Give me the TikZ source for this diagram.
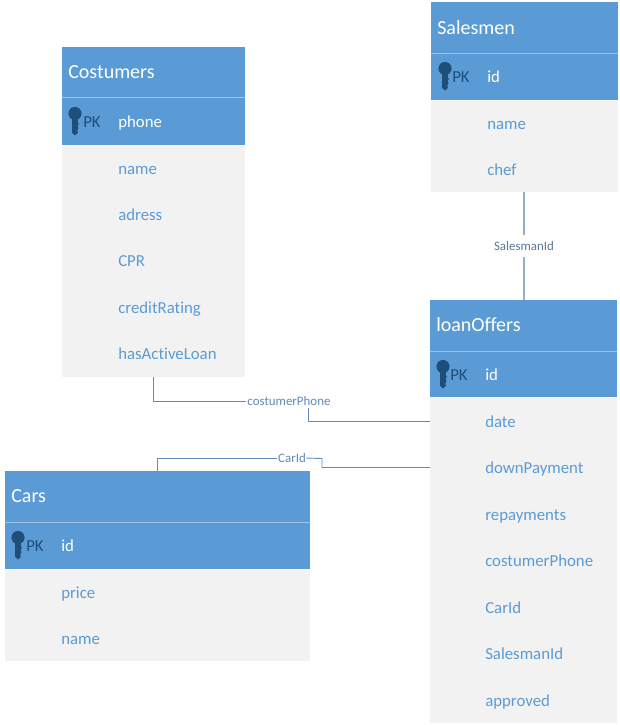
\documentclass[tikz,border=0pt]{standalone}
\usepackage{fontspec}
\setmainfont{Carlito}[Ligatures=NoCommon]
\definecolor{hdr}{HTML}{5B9BD5}
\definecolor{bodyfill}{HTML}{F2F2F2}
\definecolor{pkdark}{HTML}{1F4E79}
\definecolor{sepline}{HTML}{9DC3E6}
\definecolor{conn}{HTML}{5F8FB8}
\definecolor{connsoft}{HTML}{8FB0D0}
\definecolor{connlabel}{HTML}{5F88B8}
\definecolor{connlabeldark}{HTML}{5A7896}
\definecolor{titlewhite}{HTML}{FFFFFF}
\tikzset{
  x=0.75pt, y=-0.75pt,
  tablepart/.style={anchor=north west, inner sep=0pt, outer sep=0pt, draw=none},
  headbar/.style={tablepart, fill=hdr},
  bodypart/.style={tablepart, fill=bodyfill},
  titletext/.style={anchor=base west, inner sep=0pt, text=titlewhite, font=\fontsize{15pt}{17pt}\selectfont},
  pktext/.style={anchor=base west, inner sep=0pt, yshift=-0.4pt, text=white, font=\fontsize{12.6pt}{14pt}\selectfont},
  pkmark/.style={anchor=base west, inner sep=0pt, yshift=-0.4pt, text=pkdark, font=\fontsize{12.6pt}{14pt}\selectfont},
  fieldtext/.style={anchor=base west, inner sep=0pt, yshift=-0.4pt, text=hdr, font=\fontsize{12.6pt}{14pt}\selectfont},
  connector/.style={draw=conn, line width=0.7pt},
  softconnector/.style={draw=connsoft, line width=0.9pt},
  connlabeltext/.style={inner sep=0pt, text=connlabel, font=\fontsize{9.7pt}{11pt}\selectfont},
  seplight/.style={draw=sepline, line width=0.75pt},
  sepdot/.style={draw=white, line width=0.75pt, dash pattern=on 0.75pt off 0.75pt},
}
\newcommand{\keyicon}[2]{%
  \fill[pkdark] (#1,#2-7.5) circle[radius=6.6];
  \fill[pkdark] (#1-2.8,#2-4) -- (#1+2.8,#2-4) -- (#1+2.8,#2+1) -- (#1+3.8,#2+3) -- (#1+2.6,#2+5) -- (#1+3.6,#2+7) -- (#1+2.4,#2+9) -- (#1+2.8,#2+12) -- (#1,#2+14.5) -- (#1-2.8,#2+12) -- cycle;
}
\begin{document}
\begin{tikzpicture}
\useasboundingbox (0,0) rectangle (620,725);

% Costumers
\node[bodypart, minimum width=183*0.75pt, minimum height=330*0.75pt] (costBody) at (62,47) {};
\node[headbar, minimum width=183*0.75pt, minimum height=98*0.75pt] (costHead) at (62,47) {};
\draw[seplight] (62,97.5) -- (245,97.5);
\draw[sepdot] (62,145) -- (245,145);
\keyicon{75}{121}
\node[titletext] (costTitle) at (68,78) {Costumers};
\node[pkmark] (costPK) at (83,126.5) {PK};
\node[pktext] (costF0) at (118,126.5) {phone};
\node[fieldtext] (costF1) at (118,173.5) {name};
\node[fieldtext] (costF2) at (118,219.5) {adress};
\node[fieldtext] (costF3) at (118,265.5) {CPR};
\node[fieldtext] (costF4) at (118,312.5) {creditRating};
\node[fieldtext] (costF5) at (118,358.5) {hasActiveLoan};

% Salesmen
\node[bodypart, minimum width=187*0.75pt, minimum height=190*0.75pt] (salesBody) at (431,2) {};
\node[headbar, minimum width=187*0.75pt, minimum height=98*0.75pt] (salesHead) at (431,2) {};
\draw[seplight] (431,53.5) -- (618,53.5);
\draw[sepdot] (431,100) -- (618,100);
\keyicon{445}{76}
\node[titletext] (salesTitle) at (437,34) {Salesmen};
\node[pkmark] (salesPK) at (452,81.5) {PK};
\node[pktext] (salesF0) at (487,81.5) {id};
\node[fieldtext] (salesF1) at (487,128.5) {name};
\node[fieldtext] (salesF2) at (487,174.5) {chef};

% loanOffers
\node[bodypart, minimum width=187*0.75pt, minimum height=423*0.75pt] (loanBody) at (430,300) {};
\node[headbar, minimum width=187*0.75pt, minimum height=97*0.75pt] (loanHead) at (430,300) {};
\draw[seplight] (430,351.5) -- (617,351.5);
\draw[sepdot] (430,397) -- (617,397);
\keyicon{443}{374}
\node[titletext] (loanTitle) at (436,331) {loanOffers};
\node[pkmark] (loanPK) at (450,379.5) {PK};
\node[pktext] (loanF0) at (485,379.5) {id};
\node[fieldtext] (loanF1) at (485,426.5) {date};
\node[fieldtext] (loanF2) at (485,472.5) {downPayment};
\node[fieldtext] (loanF3) at (485,519.5) {repayments};
\node[fieldtext] (loanF4) at (485,565.5) {costumerPhone};
\node[fieldtext] (loanF5) at (485,612.5) {CarId};
\node[fieldtext] (loanF6) at (485,658.5) {SalesmanId};
\node[fieldtext] (loanF7) at (485,705.5) {approved};

% Cars
\node[bodypart, minimum width=305*0.75pt, minimum height=190*0.75pt] (carsBody) at (5,471) {};
\node[headbar, minimum width=305*0.75pt, minimum height=98*0.75pt] (carsHead) at (5,471) {};
\draw[seplight] (5,522.5) -- (310,522.5);
\draw[sepdot] (5,569) -- (310,569);
\keyicon{18}{545}
\node[titletext] (carsTitle) at (11,502) {Cars};
\node[pkmark] (carsPK) at (26,550.5) {PK};
\node[pktext] (carsF0) at (61,550.5) {id};
\node[fieldtext] (carsF1) at (61,597.5) {price};
\node[fieldtext] (carsF2) at (61,643.5) {name};

% Connector labels
\node[connlabeltext] (lblPhone) at (289,401) {costumerPhone};
\node[connlabeltext] (lblCar) at (292,458) {CarId};
\node[connlabeltext, text=connlabeldark] (lblSales) at (524,246) {SalesmanId};

% Connectors
\draw[connector] ([xshift=91*0.75pt]costBody.south west) |- ([xshift=-1*0.75pt]lblPhone.west);
\draw[connector] ([xshift=19*0.75pt,yshift=-2*0.75pt]lblPhone.south) |- (loanBody.west |- 0,421.5);
\draw[connector] ([xshift=152*0.75pt]carsHead.north west) |- ([xshift=-1*0.75pt]lblCar.west);
\draw[connector] (lblCar.east) -- (322,458.5) |- (loanBody.west |- 0,467.5);
\draw[softconnector] (salesBody.south -| lblSales.north) -- ([yshift=6*0.75pt]lblSales.north);
\draw[softconnector] ([yshift=-6*0.75pt]lblSales.south) -- (lblSales.south |- loanHead.north);
\end{tikzpicture}
\end{document}
